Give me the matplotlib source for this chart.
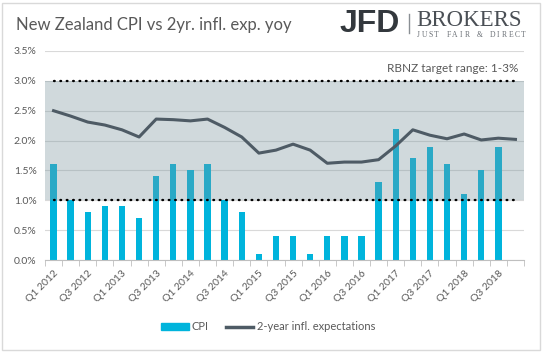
import numpy as np
import matplotlib.pyplot as plt
from matplotlib.patches import Rectangle
from matplotlib.lines import Line2D

plt.rcParams['font.family'] = ['Lato', 'DejaVu Sans']

# quarters Q1 2012 .. Q4 2018
quarters = [f"Q{q} {y}" for y in range(2012, 2019) for q in range(1, 5)]
cpi = [1.6, 1.0, 0.8, 0.9, 0.9, 0.7, 1.4, 1.6, 1.5, 1.6, 1.0, 0.8, 0.1, 0.4,
       0.4, 0.1, 0.4, 0.4, 0.4, 1.3, 2.2, 1.7, 1.9, 1.6, 1.1, 1.5, 1.9]
infl_exp = [2.50, 2.41, 2.31, 2.26, 2.18, 2.06, 2.36, 2.35, 2.33, 2.36, 2.22, 2.06,
            1.79, 1.84, 1.94, 1.84, 1.62, 1.64, 1.64, 1.68, 1.91, 2.18, 2.09, 2.03,
            2.11, 2.01, 2.04, 2.02]
target_low, target_high = 1.0, 3.0

grey_txt = '#595959'
cyan = '#00B4DC'
line_col = '#4E5B65'

fig = plt.figure(figsize=(5.43, 3.52), dpi=100)
fig.patches.append(Rectangle((0.004, 0.006), 0.99, 0.985, transform=fig.transFigure,
                             fill=False, edgecolor='#D9D9D9', lw=1))
ax = fig.add_axes([45 / 543, 1 - 260 / 352, 479 / 543, 209 / 352])

x = np.arange(len(quarters))
ax.bar(x[:len(cpi)], cpi, width=0.37, color=cyan, zorder=2)

# target band (translucent so bars show through darker)
ax.axhspan(target_low, target_high, color=(122 / 255, 149 / 255, 158 / 255), alpha=0.353,
           lw=0, zorder=3)
for lvl in (target_low, target_high):
    ax.plot([x[0], x[-1]], [lvl, lvl], color='black', lw=1.7, ls=(0, (0.3, 2.4)),
            dash_capstyle='round', zorder=4)

ax.plot(x, infl_exp, color=line_col, lw=2.2, zorder=5)

ax.set_xlim(-0.5, len(quarters) - 0.5)
ax.set_ylim(0, 3.5)
ax.set_yticks(np.arange(0, 3.51, 0.5))
ax.set_yticklabels([f"{v:.1f}%" for v in np.arange(0, 3.51, 0.5)])
ax.yaxis.grid(True, color='#D9D9D9', lw=0.8, zorder=0)
ax.set_axisbelow(True)
ax.tick_params(axis='y', length=0, labelsize=7.5, labelcolor=grey_txt, pad=6)

ax.set_xticks(x[::2])
ax.set_xticklabels(quarters[::2], rotation=45, ha='right', rotation_mode='anchor')
ax.set_xticks(np.arange(-0.5, len(quarters), 1), minor=True)
ax.tick_params(axis='x', which='major', length=0, labelsize=7.5, labelcolor=grey_txt, pad=6)
ax.tick_params(axis='x', which='minor', length=4, color='#BFBFBF')

for s in ['top', 'right', 'left']:
    ax.spines[s].set_visible(False)
ax.spines['bottom'].set_color('#BFBFBF')

ax.text(x[-1] + 0.2, 3.2, 'RBNZ target range: 1-3%', ha='right', va='center',
        fontsize=8.5, color=grey_txt)

fig.text(16 / 543, 1 - 25 / 352, 'New Zealand CPI vs 2yr. infl. exp. yoy', fontsize=12,
         color=grey_txt, va='center')

# logo
fig.text(340 / 543, 1 - 24 / 352, 'JFD', fontsize=23, fontweight='bold',
         family='Liberation Sans', color='#33383D', va='center', ha='left')
fig.lines.append(Line2D([409 / 543, 409 / 543], [1 - 14 / 352, 1 - 33 / 352],
                        transform=fig.transFigure, color='#8A8F94', lw=1))
fig.text(416 / 543, 1 - 20 / 352, 'BROKERS', fontsize=16.5, family='Liberation Serif',
         color='#4A4F55', va='center', ha='left')
tagline = 'JUST FAIR & DIRECT'
for i, ch in enumerate(tagline):
    fig.text((418 + i * 105 / (len(tagline) - 1)) / 543, 1 - 35 / 352, ch, fontsize=5.5,
             family='Liberation Serif', color='#6A6F75', va='center', ha='center')

handles = [Rectangle((0, 0), 1, 1, color=cyan),
           Line2D([], [], color=line_col, lw=2.5)]
fig.legend(handles, ['CPI', '2-year infl. expectations'], loc='center',
           bbox_to_anchor=(268 / 543, 1 - 327 / 352), ncol=2, frameon=False,
           fontsize=8, labelcolor=grey_txt, handlelength=2.5, handleheight=0.5,
           columnspacing=1.5, handletextpad=0.3)

fig.savefig('out.png', dpi=100)
